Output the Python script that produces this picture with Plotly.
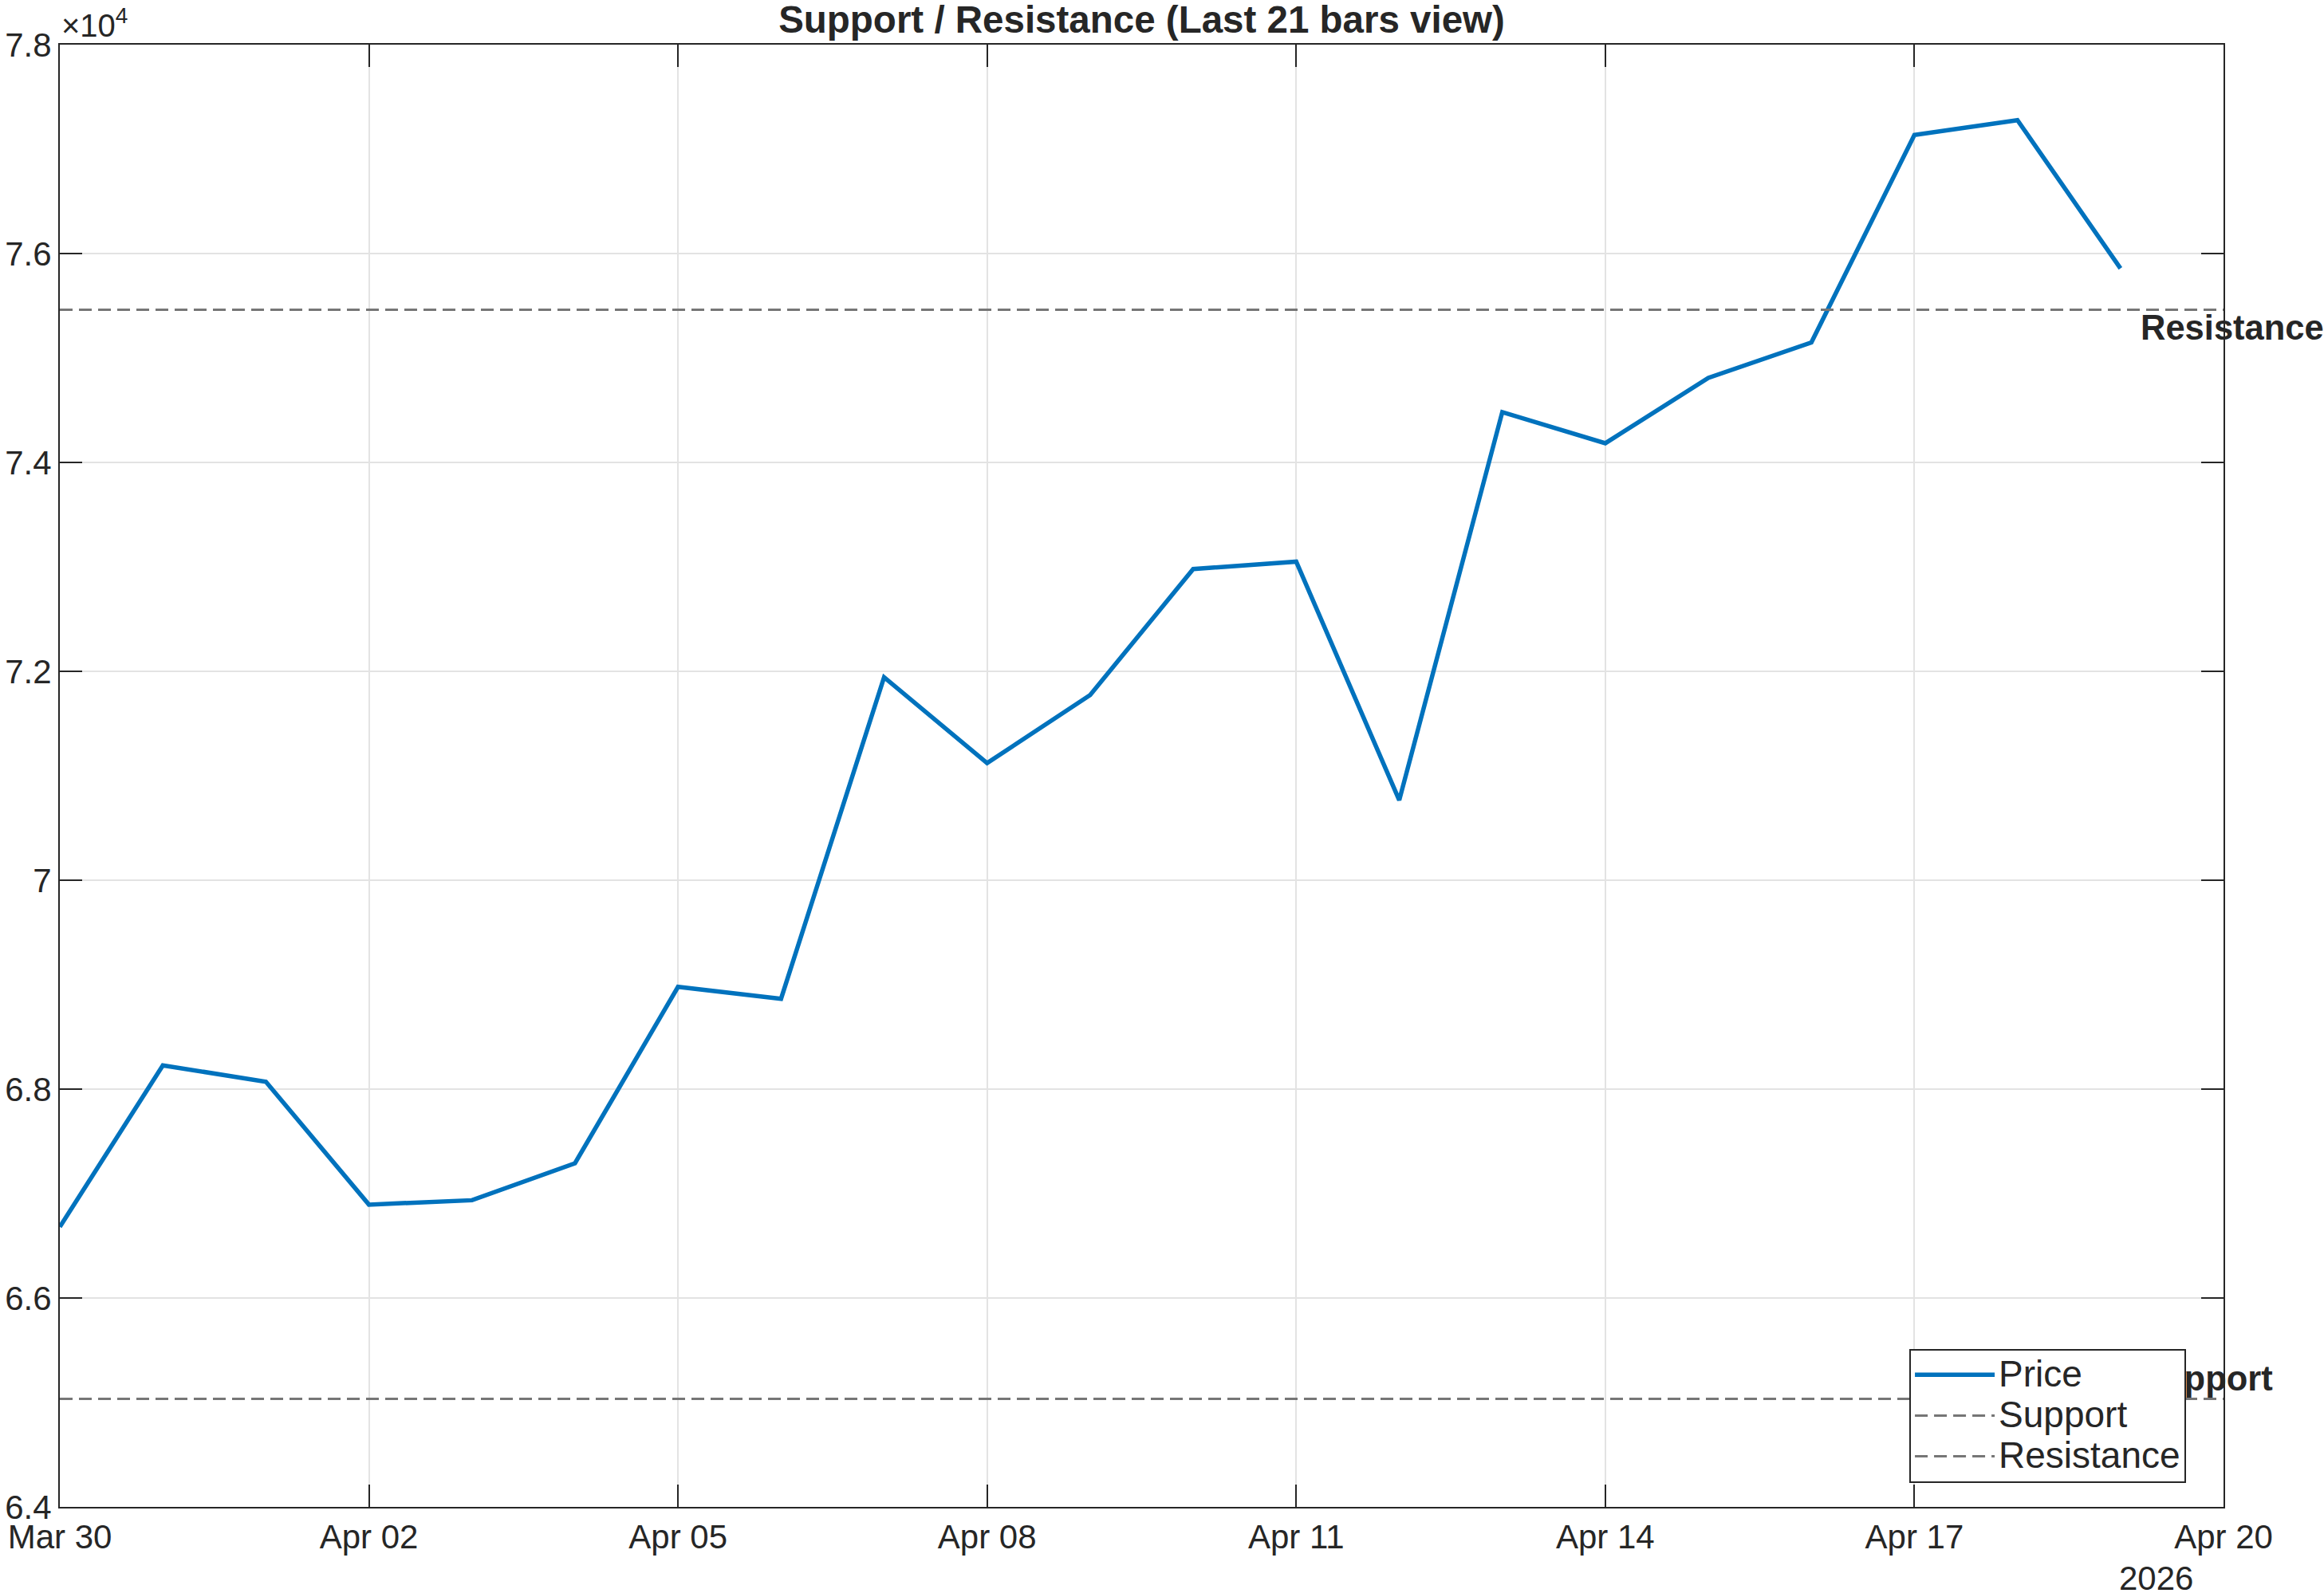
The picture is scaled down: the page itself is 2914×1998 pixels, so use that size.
import plotly.graph_objects as go

# ---- data ----
dates = ["2026-03-30", "2026-03-31", "2026-04-01", "2026-04-02", "2026-04-03",
         "2026-04-04", "2026-04-05", "2026-04-06", "2026-04-07", "2026-04-08",
         "2026-04-09", "2026-04-10", "2026-04-11", "2026-04-12", "2026-04-13",
         "2026-04-14", "2026-04-15", "2026-04-16", "2026-04-17", "2026-04-18",
         "2026-04-19"]
price = [66681, 68227, 68071, 66894, 66936,
         67290, 68979, 68865, 71943, 71121,
         71773, 72979, 73050, 70766, 74482,
         74184, 74809, 75149, 77135, 77277,
         75858]
support_level = 65035
resistance_level = 75461
x_range = ["2026-03-30", "2026-04-20"]
x_tickvals = ["2026-03-30", "2026-04-02", "2026-04-05", "2026-04-08",
              "2026-04-11", "2026-04-14", "2026-04-17", "2026-04-20"]
y_tickvals = [64000, 66000, 68000, 70000, 72000, 74000, 76000, 78000]
y_ticktext = ["6.4", "6.6", "6.8", "7", "7.2", "7.4", "7.6", "7.8"]
legend_names = ["Price", "Support", "Resistance"]
title_text = "Support / Resistance (Last 21 bars view)"
year_label = "2026"

FONT = "Liberation Sans, Arial, Helvetica, sans-serif"
AX = "#262626"
W, H = 2914, 1998
ML, MR, MT, MB = 75, 126, 56, 108


def leg(name):
    return '<span style="font-size:46px">' + name + "</span>"


fig = go.Figure()
fig.add_trace(go.Scatter(x=dates, y=price, mode="lines", name=leg(legend_names[0]),
                         line=dict(color="#0072BD", width=5.5)))
fig.add_trace(go.Scatter(x=x_range, y=[support_level] * 2, mode="lines",
                         name=leg(legend_names[1]),
                         line=dict(color="#767676", width=3, dash="16px,8px")))
fig.add_trace(go.Scatter(x=x_range, y=[resistance_level] * 2, mode="lines",
                         name=leg(legend_names[2]),
                         line=dict(color="#767676", width=3, dash="16px,8px")))
# support label as a text trace so that the legend box covers it, as in the reference
fig.add_trace(go.Scatter(x=[dates[-1]], y=[support_level], mode="text",
                         text=["\u00a0\u00a0Support"], textposition="top right",
                         textfont=dict(family=FONT, size=43.5, color=AX, weight="bold"),
                         showlegend=False, cliponaxis=False, hoverinfo="skip"))

axis_common = dict(showline=True, linecolor=AX, linewidth=2, mirror="ticks",
                   ticks="inside", ticklen=28, tickwidth=2, tickcolor=AX,
                   showgrid=True, gridcolor="#e3e3e3", gridwidth=2, zeroline=False,
                   tickfont=dict(family=FONT, size=42, color=AX))

fig.update_layout(
    width=W, height=H,
    margin=dict(l=ML, r=MR, t=MT, b=MB, autoexpand=False),
    paper_bgcolor="white", plot_bgcolor="white",
    font=dict(family=FONT, size=42, color=AX),
    title=dict(text="<b>" + title_text + "</b>", x=0.5, xref="paper",
               y=1 - 24 / H, yanchor="middle",
               font=dict(family=FONT, size=47.5, color=AX)),
    xaxis=dict(type="date", range=x_range, tickvals=x_tickvals, tickformat="%b %d",
               **axis_common),
    yaxis=dict(range=[y_tickvals[0], y_tickvals[-1]], tickvals=y_tickvals,
               ticktext=y_ticktext, **axis_common),
    legend=dict(x=0.9827, xanchor="right", y=0.0165, yanchor="bottom",
                bgcolor="white", bordercolor=AX, borderwidth=2,
                font=dict(family=FONT, size=37, color=AX),
                itemwidth=100, tracegroupgap=0),
    showlegend=True,
)

fig.add_annotation(text="Resistance", x=dates[-1], y=resistance_level,
                   xanchor="left", yanchor="middle", xshift=23, yshift=-22,
                   showarrow=False,
                   font=dict(family=FONT, size=43.5, color=AX, weight="bold"))
fig.add_annotation(text="×10<sup>4</sup>", xref="paper", yref="paper", x=0, y=1,
                   xanchor="left", yanchor="bottom", showarrow=False,
                   font=dict(family=FONT, size=40, color=AX))
fig.add_annotation(text=year_label, xref="paper", yref="paper", x=0.969, y=0,
                   xanchor="center", yanchor="middle", yshift=-89, showarrow=False,
                   font=dict(family=FONT, size=42, color=AX))

fig.write_html("out.html")
